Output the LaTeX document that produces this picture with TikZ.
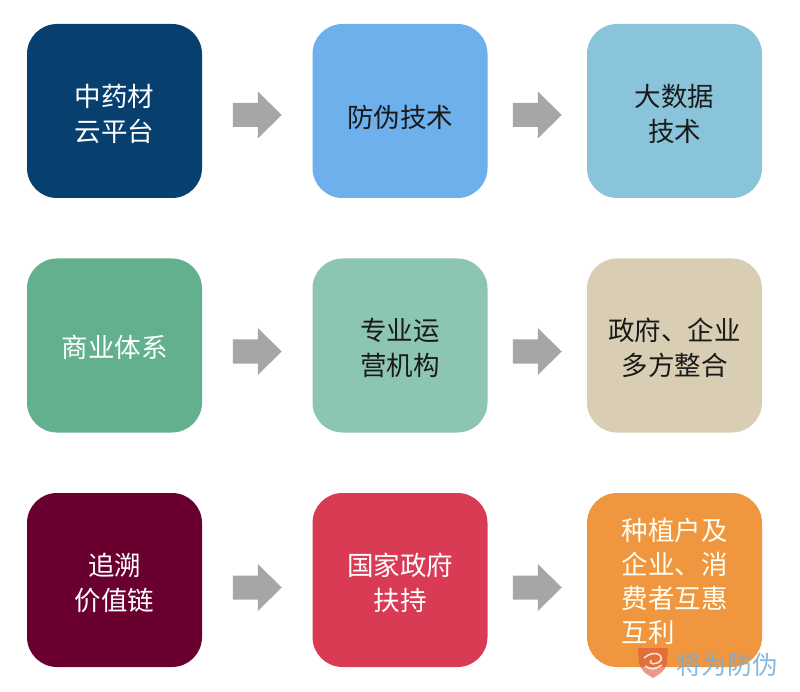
\documentclass[tikz,border=0pt]{standalone}
\usepackage{fontspec}
\newfontfamily\cjk{Noto Sans CJK SC}
\usetikzlibrary{calc}
\definecolor{cA}{HTML}{07406F}
\definecolor{cB}{HTML}{6DB0EC}
\definecolor{cC}{HTML}{8AC4DB}
\definecolor{cD}{HTML}{63B08E}
\definecolor{cE}{HTML}{8CC5B0}
\definecolor{cF}{HTML}{D9CEB3}
\definecolor{cG}{HTML}{6A0030}
\definecolor{cH}{HTML}{D93A54}
\definecolor{cI}{HTML}{F0963E}
\definecolor{arrowgray}{HTML}{A6A6A6}
\definecolor{darktext}{HTML}{1A1A1A}
\definecolor{wmblue}{HTML}{74AEDA}
\definecolor{wmred}{HTML}{D9553A}
\tikzset{
  card/.style={rounded corners=30pt, minimum width=175pt, minimum height=174pt,
    inner sep=0pt},
  txt/.style={inner sep=0pt, align=center, font=\cjk\fontsize{26.5}{35}\selectfont},
  lighttext/.style={text=white},
  darkfont/.style={text=darktext},
  garrow/.pic={\fill[arrowgray] (-24.5,-12) -- (0.5,-12) -- (0.5,-23.5) -- (24.5,0)
      -- (0.5,23.5) -- (0.5,12) -- (-24.5,12) -- cycle;}
}
\begin{document}
\begin{tikzpicture}[x=1pt,y=-1pt]
\useasboundingbox (0,0) rectangle (800,692);
\fill[white] (0,0) rectangle (800,692);
% row 1
\node[card, fill=cA] (a) at (114.5,111) {};
\node[card, fill=cB] (b) at (400,111) {};
\node[card, fill=cC] (c) at (674.5,111) {};
% row 2
\node[card, fill=cD] (d) at (114.5,345.5) {};
\node[card, fill=cE] (e) at (400,345.5) {};
\node[card, fill=cF] (f) at (674.5,345.5) {};
% row 3
\node[card, fill=cG] (g) at (114.5,580) {};
\node[card, fill=cH] (h) at (400,580) {};
\node[card, fill=cI] (i) at (674.5,580) {};
% texts
\node[txt, lighttext] (ta) at ($(a)+(0,3)$) {中药材\\云平台};
\node[txt, darkfont] (tb) at ($(b)+(0,6)$) {防伪技术};
\node[txt, darkfont] (tc) at ($(c)+(0,3)$) {大数据\\技术};
\node[txt, lighttext] (td) at ($(d)+(0,2)$) {商业体系};
\node[txt, darkfont] (te) at ($(e)+(0,2.5)$) {专业运\\营机构};
\node[txt, darkfont] (tf) at ($(f)+(0,2.5)$) {政府、企业\\多方整合};
\node[txt, lighttext] (tg) at ($(g)+(0,3)$) {追溯\\价值链};
\node[txt, lighttext] (th) at ($(h)+(0,3)$) {国家政府\\扶持};
\node[txt, text=white!95!yellow, align=left, font=\cjk\fontsize{26.5}{34}\selectfont] (ti) at ($(i)+(0,1)$) {种植户及\\企业、消\\费者互惠\\互利};
% arrows
\pic at ($(a.east)!0.5!(b.west)+(0,4)$) {garrow};
\pic at ($(b.east)!0.5!(c.west)+(0,4)$) {garrow};
\pic at ($(d.east)!0.5!(e.west)+(0,6)$) {garrow};
\pic at ($(e.east)!0.5!(f.west)+(0,6)$) {garrow};
\pic at ($(g.east)!0.5!(h.west)+(0,7.5)$) {garrow};
\pic at ($(h.east)!0.5!(i.west)+(0,7.5)$) {garrow};
% watermark
\coordinate (wm) at (653,662);
\fill[wmred, opacity=0.6] ($(wm)+(-15,-14)$) -- ($(wm)+(15,-14)$) -- ($(wm)+(14,2)$)
  .. controls ($(wm)+(10,10)$) .. ($(wm)+(0,16)$)
  .. controls ($(wm)+(-10,10)$) .. ($(wm)+(-14,2)$) -- cycle;
\draw[white, opacity=0.8, line width=1.6pt] ($(wm)+(-9,-4)$) .. controls ($(wm)+(0,-12)$) and ($(wm)+(10,-8)$) .. ($(wm)+(8,-2)$)
  .. controls ($(wm)+(4,4)$) and ($(wm)+(-6,2)$) .. ($(wm)+(-2,-2)$);
\draw[white, opacity=0.8, line width=1.6pt] ($(wm)+(-8,4)$) .. controls ($(wm)+(0,8)$) .. ($(wm)+(9,3)$);
\node[inner sep=0pt, text=wmblue, opacity=0.85, font=\cjk\fontsize{25.5}{28}\selectfont, anchor=west] (wmt) at (676,665) {将为防伪};
\end{tikzpicture}
\end{document}
